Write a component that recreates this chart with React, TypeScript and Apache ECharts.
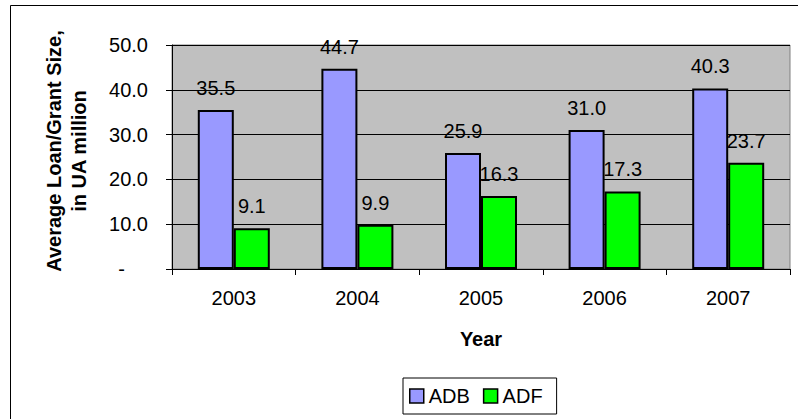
import React, { useEffect, useRef } from "react";
import * as echarts from "echarts";

const years = ["2003", "2004", "2005", "2006", "2007"];
const adb = [35.5, 44.7, 25.9, 31.0, 40.3];
const adf = [9.1, 9.9, 16.3, 17.3, 23.7];
const yTitleLines = ["Average Loan/Grant Size,", "in UA million"];
const xTitle = "Year";

const FONT = '"Liberation Sans", Arial, sans-serif';

export default function App() {
  const ref = useRef<HTMLDivElement>(null);
  useEffect(() => {
    if (!ref.current) return;
    const chart = echarts.init(ref.current, undefined, { renderer: "svg" });
    const labelCfg = {
      show: true,
      position: "top",
      distance: 12,
      color: "#000",
      fontSize: 20,
      fontFamily: FONT,
      formatter: (p: any) => Number(p.value).toFixed(1),
    };
    chart.setOption({
      animation: false,
      backgroundColor: "#fff",
      textStyle: { fontFamily: FONT },
      grid: {
        left: 172,
        right: 8,
        top: 45,
        bottom: 150,
        show: true,
        backgroundColor: "#C0C0C0",
        borderColor: "#808080",
        borderWidth: 1,
      },
      legend: {
        left: 403,
        top: 378,
        orient: "horizontal",
        itemWidth: 14,
        itemHeight: 14,
        itemGap: 13,
        padding: [8, 14, 8, 6],
        borderColor: "#000",
        borderWidth: 1,
        icon: "rect",
        itemStyle: { borderColor: "#000", borderWidth: 1.5 },
        textStyle: { fontSize: 20, color: "#000", fontFamily: FONT },
        data: ["ADB", "ADF"],
      },
      xAxis: {
        type: "category",
        data: years,
        name: xTitle,
        nameLocation: "middle",
        nameGap: 60,
        nameTextStyle: { fontSize: 20, fontWeight: "bold", color: "#000", fontFamily: FONT },
        axisLine: { show: true, lineStyle: { color: "#000", width: 1 } },
        axisTick: { show: true, length: 6, alignWithLabel: false, lineStyle: { color: "#000" } },
        axisLabel: { color: "#000", fontSize: 20, margin: 19, fontFamily: FONT },
        splitLine: { show: false },
      },
      yAxis: {
        type: "value",
        min: 0,
        max: 50,
        interval: 10,
        axisLine: { show: true, lineStyle: { color: "#000", width: 1 } },
        axisTick: { show: true, length: 6, lineStyle: { color: "#000" } },
        axisLabel: {
          color: "#000",
          fontSize: 20,
          margin: 24,
          fontFamily: FONT,
          formatter: (v: number) => (v === 0 ? "{dash|-}" : v.toFixed(1)),
          rich: {
            dash: { fontSize: 20, color: "#000", fontFamily: FONT, padding: [0, 23, 0, 0] },
          },
        },
        splitLine: { show: true, lineStyle: { color: "#000", width: 1 } },
      },
      graphic: [
        {
          type: "rect",
          shape: { x: 10.5, y: 5.5, width: 820, height: 440 },
          style: { fill: "none", stroke: "#000", lineWidth: 1 },
          silent: true,
          z: 100,
        },
        {
          type: "text",
          x: 66,
          y: 151,
          rotation: Math.PI / 2,
          style: {
            text: yTitleLines.join("\n"),
            fontSize: 20,
            fontWeight: "bold",
            fontFamily: FONT,
            fill: "#000",
            align: "center",
            verticalAlign: "middle",
            lineHeight: 25,
          },
        },
      ],
      series: [
        {
          name: "ADB",
          type: "bar",
          data: adb,
          barWidth: 36,
          barGap: "0%",
          itemStyle: { color: "#9999FF", borderColor: "#000", borderWidth: 2 },
          label: labelCfg,
        },
        {
          name: "ADF",
          type: "bar",
          data: adf,
          barWidth: 36,
          barGap: "0%",
          itemStyle: { color: "#00FF00", borderColor: "#000", borderWidth: 2 },
          label: labelCfg,
        },
      ],
    });
    return () => chart.dispose();
  }, []);
  return (
    <div
      ref={ref}
      style={{ position: "fixed", left: 0, top: 0, width: 798, height: 419 }}
    />
  );
}
